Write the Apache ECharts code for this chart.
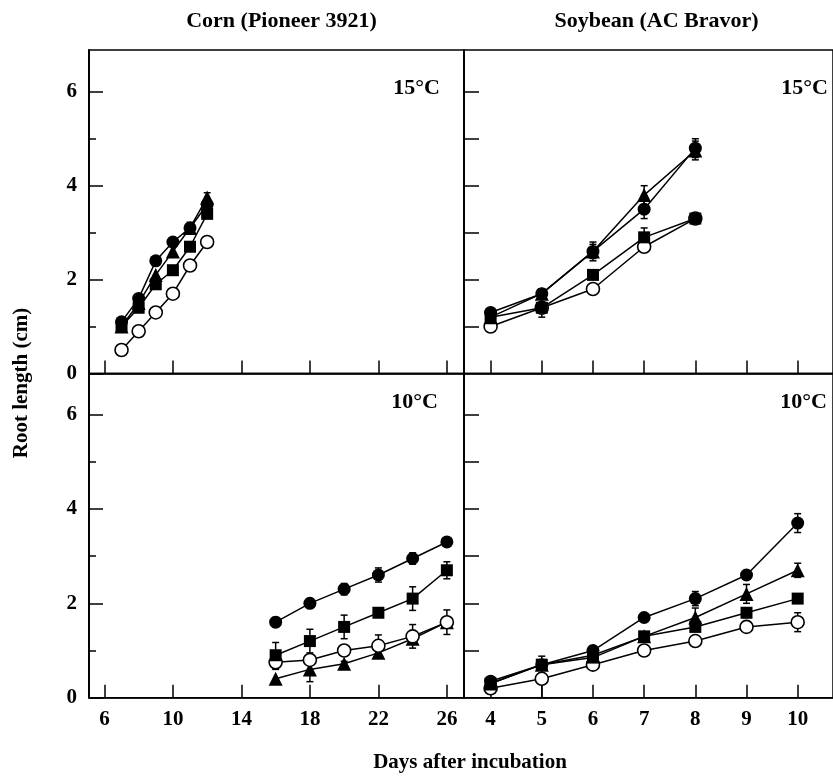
<!DOCTYPE html>
<html>
<head>
<meta charset="utf-8">
<script src="https://cdn.jsdelivr.net/npm/echarts@6/dist/echarts.min.js"></script>
<style>
html,body{margin:0;padding:0;background:#fff;}
#chart{width:833px;height:779px;}
</style>
</head>
<body>
<div id="chart"></div>
<script>
// ---- Data ----
// Corn (Pioneer 3921), 15 °C
const corn15Days = [7, 8, 9, 10, 11, 12];
const corn15Filled = [1.1, 1.6, 2.4, 2.8, 3.1, 3.6];
const corn15Triangle = [1.0, 1.5, 2.1, 2.6, 3.1, 3.75];
const corn15Square = [1.0, 1.4, 1.9, 2.2, 2.7, 3.4];
const corn15Open = [0.5, 0.9, 1.3, 1.7, 2.3, 2.8];
const corn15FilledErr = [0, 0, 0.05, 0.05, 0.12, 0.1];
const corn15TriangleErr = [0, 0, 0, 0, 0, 0.1];
const corn15SquareErr = [0, 0, 0, 0, 0, 0];
const corn15OpenErr = [0, 0, 0, 0, 0, 0];

// Soybean (AC Bravor), 15 °C
const soy15Days = [4, 5, 6, 7, 8];
const soy15Filled = [1.3, 1.7, 2.6, 3.5, 4.8];
const soy15Triangle = [1.2, 1.7, 2.6, 3.8, 4.75];
const soy15Square = [1.2, 1.4, 2.1, 2.9, 3.3];
const soy15Open = [1.0, 1.4, 1.8, 2.7, 3.3];
const soy15FilledErr = [0.05, 0.1, 0.2, 0.2, 0.2];
const soy15TriangleErr = [0, 0.1, 0.15, 0.2, 0.2];
const soy15SquareErr = [0, 0.2, 0, 0.2, 0];
const soy15OpenErr = [0, 0, 0, 0.1, 0];

// Corn (Pioneer 3921), 10 °C
const corn10Days = [16, 18, 20, 22, 24, 26];
const corn10Filled = [1.6, 2.0, 2.3, 2.6, 2.95, 3.3];
const corn10Triangle = [0.4, 0.6, 0.72, 0.95, 1.25, 1.6];
const corn10Square = [0.9, 1.2, 1.5, 1.8, 2.1, 2.7];
const corn10Open = [0.75, 0.8, 1.0, 1.1, 1.3, 1.6];
const corn10FilledErr = [0.1, 0.05, 0.12, 0.15, 0.12, 0.05];
const corn10TriangleErr = [0, 0.26, 0.05, 0.05, 0.1, 0.1];
const corn10SquareErr = [0.27, 0.25, 0.25, 0.05, 0.25, 0.18];
const corn10OpenErr = [0.15, 0.1, 0.1, 0.23, 0.25, 0.26];

// Soybean (AC Bravor), 10 °C
const soy10Days = [4, 5, 6, 7, 8, 9, 10];
const soy10Filled = [0.35, 0.7, 1.0, 1.7, 2.1, 2.6, 3.7];
const soy10Triangle = [0.3, 0.7, 0.9, 1.3, 1.7, 2.2, 2.7];
const soy10Square = [0.3, 0.7, 0.85, 1.3, 1.5, 1.8, 2.1];
const soy10Open = [0.2, 0.4, 0.7, 1.0, 1.2, 1.5, 1.6];
const soy10FilledErr = [0.05, 0.18, 0.05, 0.05, 0.15, 0.05, 0.2];
const soy10TriangleErr = [0, 0, 0, 0, 0.2, 0.2, 0.15];
const soy10SquareErr = [0, 0, 0, 0, 0.05, 0.1, 0];
const soy10OpenErr = [0.05, 0.4, 0, 0.1, 0, 0, 0.2];

// Tick labels
const cornTicks = [6, 10, 14, 18, 22, 26];
const soyTicks = [4, 5, 6, 7, 8, 9, 10];
const yMajorTicks = [0, 2, 4, 6];
const yMinorTicks = [1, 3, 5];
const yRightTicks = [1, 2, 3, 4, 5, 6];

// Text
const titleCorn = 'Corn (Pioneer 3921)';
const titleSoy = 'Soybean (AC Bravor)';
const xName = 'Days after incubation';
const yName = 'Root length (cm)';
const temp15 = '15°C';
const temp10 = '10°C';

// ---- Chart ----
const FONT = '"Liberation Serif", "DejaVu Serif", serif';
const BLACK = '#000';
const chart = echarts.init(document.getElementById('chart'), null, {renderer: 'canvas'});

const G = {L: 89, M: 464, R: 854, T: 50, MID: 373.5, B: 697.7};

const grids = [
  {left: G.L, top: G.T, width: G.M - G.L, height: G.MID - G.T},
  {left: G.M, top: G.T, width: G.R - G.M, height: G.MID - G.T},
  {left: G.L, top: G.MID, width: G.M - G.L, height: G.B - G.MID},
  {left: G.M, top: G.MID, width: G.R - G.M, height: G.B - G.MID}
].map(g => Object.assign({show: true, borderColor: BLACK, borderWidth: 1.5, backgroundColor: 'transparent', containLabel: false}, g));

function xAxisDef(gi, min, max, ticks, showLabels) {
  return {
    gridIndex: gi, type: 'value', min: min, max: max, position: 'bottom',
    axisLine: {show: true, onZero: false, lineStyle: {color: BLACK, width: 1.5}},
    axisTick: {show: true, inside: true, length: 13, customValues: ticks, lineStyle: {color: BLACK, width: 1.5}},
    axisLabel: {show: showLabels, customValues: ticks, color: BLACK, fontFamily: FONT, fontWeight: 'bold', fontSize: 21, margin: 11},
    splitLine: {show: false}
  };
}
function yAxisDef(gi, max, ticks, len, labels) {
  return {
    gridIndex: gi, type: 'value', min: 0, max: max, position: 'left',
    axisLine: {show: true, onZero: false, lineStyle: {color: BLACK, width: 1.5}},
    axisTick: {show: true, inside: true, length: len, customValues: ticks, lineStyle: {color: BLACK, width: 1.5}},
    axisLabel: labels ? {show: true, customValues: labels, color: BLACK, fontFamily: FONT, fontWeight: 'bold', fontSize: 21, margin: 12} : {show: false},
    splitLine: {show: false}
  };
}

const xAxes = [
  xAxisDef(0, 5.1, 27, cornTicks, false),
  xAxisDef(1, 3.48, 10.69, soyTicks, false),
  xAxisDef(2, 5.1, 27, cornTicks, true),
  xAxisDef(3, 3.48, 10.69, soyTicks, true)
];
const yAxes = [
  yAxisDef(0, 6.89, yMajorTicks, 14, yMajorTicks),   // 0 TL major
  yAxisDef(0, 6.89, yMinorTicks, 7, null),           // 1 TL minor
  yAxisDef(1, 6.89, yRightTicks, 15, null),          // 2 TR
  yAxisDef(2, 6.87, yMajorTicks, 14, yMajorTicks),   // 3 BL major
  yAxisDef(2, 6.87, yMinorTicks, 7, null),           // 4 BL minor
  yAxisDef(3, 6.87, yRightTicks, 15, null)           // 5 BR
];

const styles = {
  filled: {symbol: 'circle', symbolSize: 13, itemStyle: {color: BLACK, borderColor: BLACK, borderWidth: 0}},
  triangle: {symbol: 'triangle', symbolSize: 14, itemStyle: {color: BLACK, borderColor: BLACK, borderWidth: 0}},
  square: {symbol: 'rect', symbolSize: 12, itemStyle: {color: BLACK, borderColor: BLACK, borderWidth: 0}},
  open: {symbol: 'circle', symbolSize: 13, itemStyle: {color: '#fff', borderColor: BLACK, borderWidth: 1.6}}
};

function errRender(params, api) {
  const x = api.value(0), y = api.value(1), e = api.value(2);
  const top = api.coord([x, y + e]);
  const bot = api.coord([x, y - e]);
  const w = 3.5;
  const st = {stroke: BLACK, lineWidth: 1.5};
  return {type: 'group', children: [
    {type: 'line', shape: {x1: top[0], y1: top[1], x2: bot[0], y2: bot[1]}, style: st},
    {type: 'line', shape: {x1: top[0] - w, y1: top[1], x2: top[0] + w, y2: top[1]}, style: st},
    {type: 'line', shape: {x1: bot[0] - w, y1: bot[1], x2: bot[0] + w, y2: bot[1]}, style: st}
  ]};
}

const series = [];
function addPanel(xi, yi, days, sets) {
  const errData = [];
  sets.forEach(s => {
    days.forEach((d, i) => { if (s.err[i] > 0) errData.push([d, s.vals[i], s.err[i]]); });
  });
  series.push({type: 'custom', xAxisIndex: xi, yAxisIndex: yi, renderItem: errRender, data: errData, z: 1, silent: true, animation: false});
  sets.forEach(s => {
    const st = styles[s.kind];
    series.push({
      type: 'line', xAxisIndex: xi, yAxisIndex: yi,
      data: days.map((d, i) => [d, s.vals[i]]),
      symbol: st.symbol, symbolSize: st.symbolSize, showAllSymbol: true,
      itemStyle: st.itemStyle,
      lineStyle: {color: BLACK, width: 1.5},
      z: 2, animation: false, silent: true
    });
  });
}

addPanel(0, 0, corn15Days, [
  {kind: 'open', vals: corn15Open, err: corn15OpenErr},
  {kind: 'square', vals: corn15Square, err: corn15SquareErr},
  {kind: 'triangle', vals: corn15Triangle, err: corn15TriangleErr},
  {kind: 'filled', vals: corn15Filled, err: corn15FilledErr}
]);
addPanel(1, 2, soy15Days, [
  {kind: 'open', vals: soy15Open, err: soy15OpenErr},
  {kind: 'square', vals: soy15Square, err: soy15SquareErr},
  {kind: 'triangle', vals: soy15Triangle, err: soy15TriangleErr},
  {kind: 'filled', vals: soy15Filled, err: soy15FilledErr}
]);
addPanel(2, 3, corn10Days, [
  {kind: 'triangle', vals: corn10Triangle, err: corn10TriangleErr},
  {kind: 'open', vals: corn10Open, err: corn10OpenErr},
  {kind: 'square', vals: corn10Square, err: corn10SquareErr},
  {kind: 'filled', vals: corn10Filled, err: corn10FilledErr}
]);
addPanel(3, 5, soy10Days, [
  {kind: 'open', vals: soy10Open, err: soy10OpenErr},
  {kind: 'square', vals: soy10Square, err: soy10SquareErr},
  {kind: 'triangle', vals: soy10Triangle, err: soy10TriangleErr},
  {kind: 'filled', vals: soy10Filled, err: soy10FilledErr}
]);

function txt(text, x, y, align, size, extra) {
  return Object.assign({
    type: 'text', x: x, y: y, silent: true,
    style: {text: text, fill: BLACK, font: 'bold ' + size + 'px ' + FONT, textAlign: align, textVerticalAlign: 'middle'}
  }, extra || {});
}

const graphics = [
  txt(titleCorn, 281.5, 21, 'center', 22),
  txt(titleSoy, 656.5, 21, 'center', 22),
  txt(temp15, 440, 88, 'right', 22),
  txt(temp15, 828, 88, 'right', 22),
  txt(temp10, 438, 402, 'right', 22),
  txt(temp10, 827, 402, 'right', 22),
  txt(xName, 470, 763, 'center', 21),
  txt(yName, 22, 383, 'center', 21, {rotation: Math.PI / 2})
];

chart.setOption({
  backgroundColor: '#fff',
  animation: false,
  grid: grids,
  xAxis: xAxes,
  yAxis: yAxes,
  series: series,
  graphic: graphics
});
</script>
</body>
</html>
